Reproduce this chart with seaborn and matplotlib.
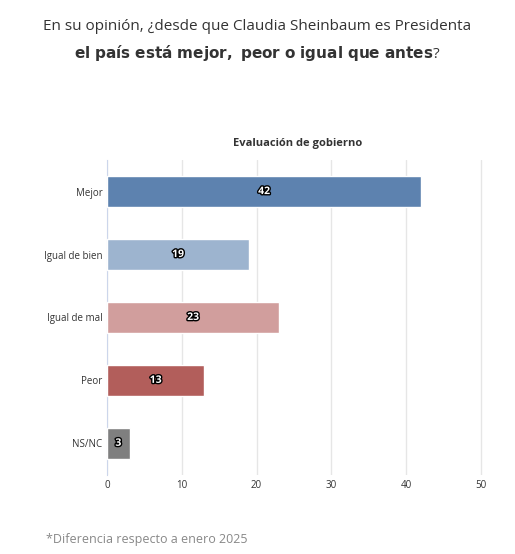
import matplotlib
matplotlib.use('Agg')
from matplotlib import pyplot as plt
import matplotlib.patheffects as pe
import seaborn as sns
import pandas as pd

categorias = ['Mejor', 'Igual de bien', 'Igual de mal', 'Peor', 'NS/NC']
valores = [42, 19, 23, 13, 3]
colores = ['#4f81bd', '#95b3d7', '#da9694', '#c0504d', '#7f7f7f']

df = pd.DataFrame({'cat': categorias, 'val': valores})

sns.set_style('white')
plt.rcParams['font.family'] = ['Open Sans', 'DejaVu Sans']

fig = plt.figure(figsize=(5.15, 5.54), dpi=100)
ax = fig.add_axes([0.208, 0.143, 0.74, 0.568])
sns.barplot(data=df, x='val', y='cat', hue='cat', palette=colores, legend=False,
            width=0.5, ax=ax, zorder=3)
ax.set_xlim(0, 51)
ax.set_xticks([0, 10, 20, 30, 40, 50])
ax.grid(axis='x', color='#e6e6e6', lw=1, zorder=0)
ax.set_xlabel('')
ax.set_ylabel('')
ax.tick_params(axis='both', labelsize=7, colors='#333333', length=0)
for s in ['top', 'right', 'bottom']:
    ax.spines[s].set_visible(False)
ax.spines['left'].set_color('#ccd6eb')

for i, v in enumerate(valores):
    ax.text(v / 2, i, str(v), ha='center', va='center', fontsize=7.5, fontweight='bold',
            color='white', zorder=5,
            path_effects=[pe.withStroke(linewidth=2, foreground='black')])

ax.set_title('Evaluación de gobierno', fontsize=8, fontweight='bold', color='#333333', pad=10)

fig.text(0.5, 0.945, 'En su opinión, ¿desde que Claudia Sheinbaum es Presidenta',
         ha='center', fontsize=11, color='#333333')
fig.text(0.5, 0.895, r'$\bf{el\ país\ está\ mejor,\ peor\ o\ igual\ que\ antes}$?',
         ha='center', fontsize=11, color='#333333')
fig.text(0.09, 0.02, '*Diferencia respecto a enero 2025', fontsize=9, color='#888888')

fig.savefig('out.png', dpi=100)
